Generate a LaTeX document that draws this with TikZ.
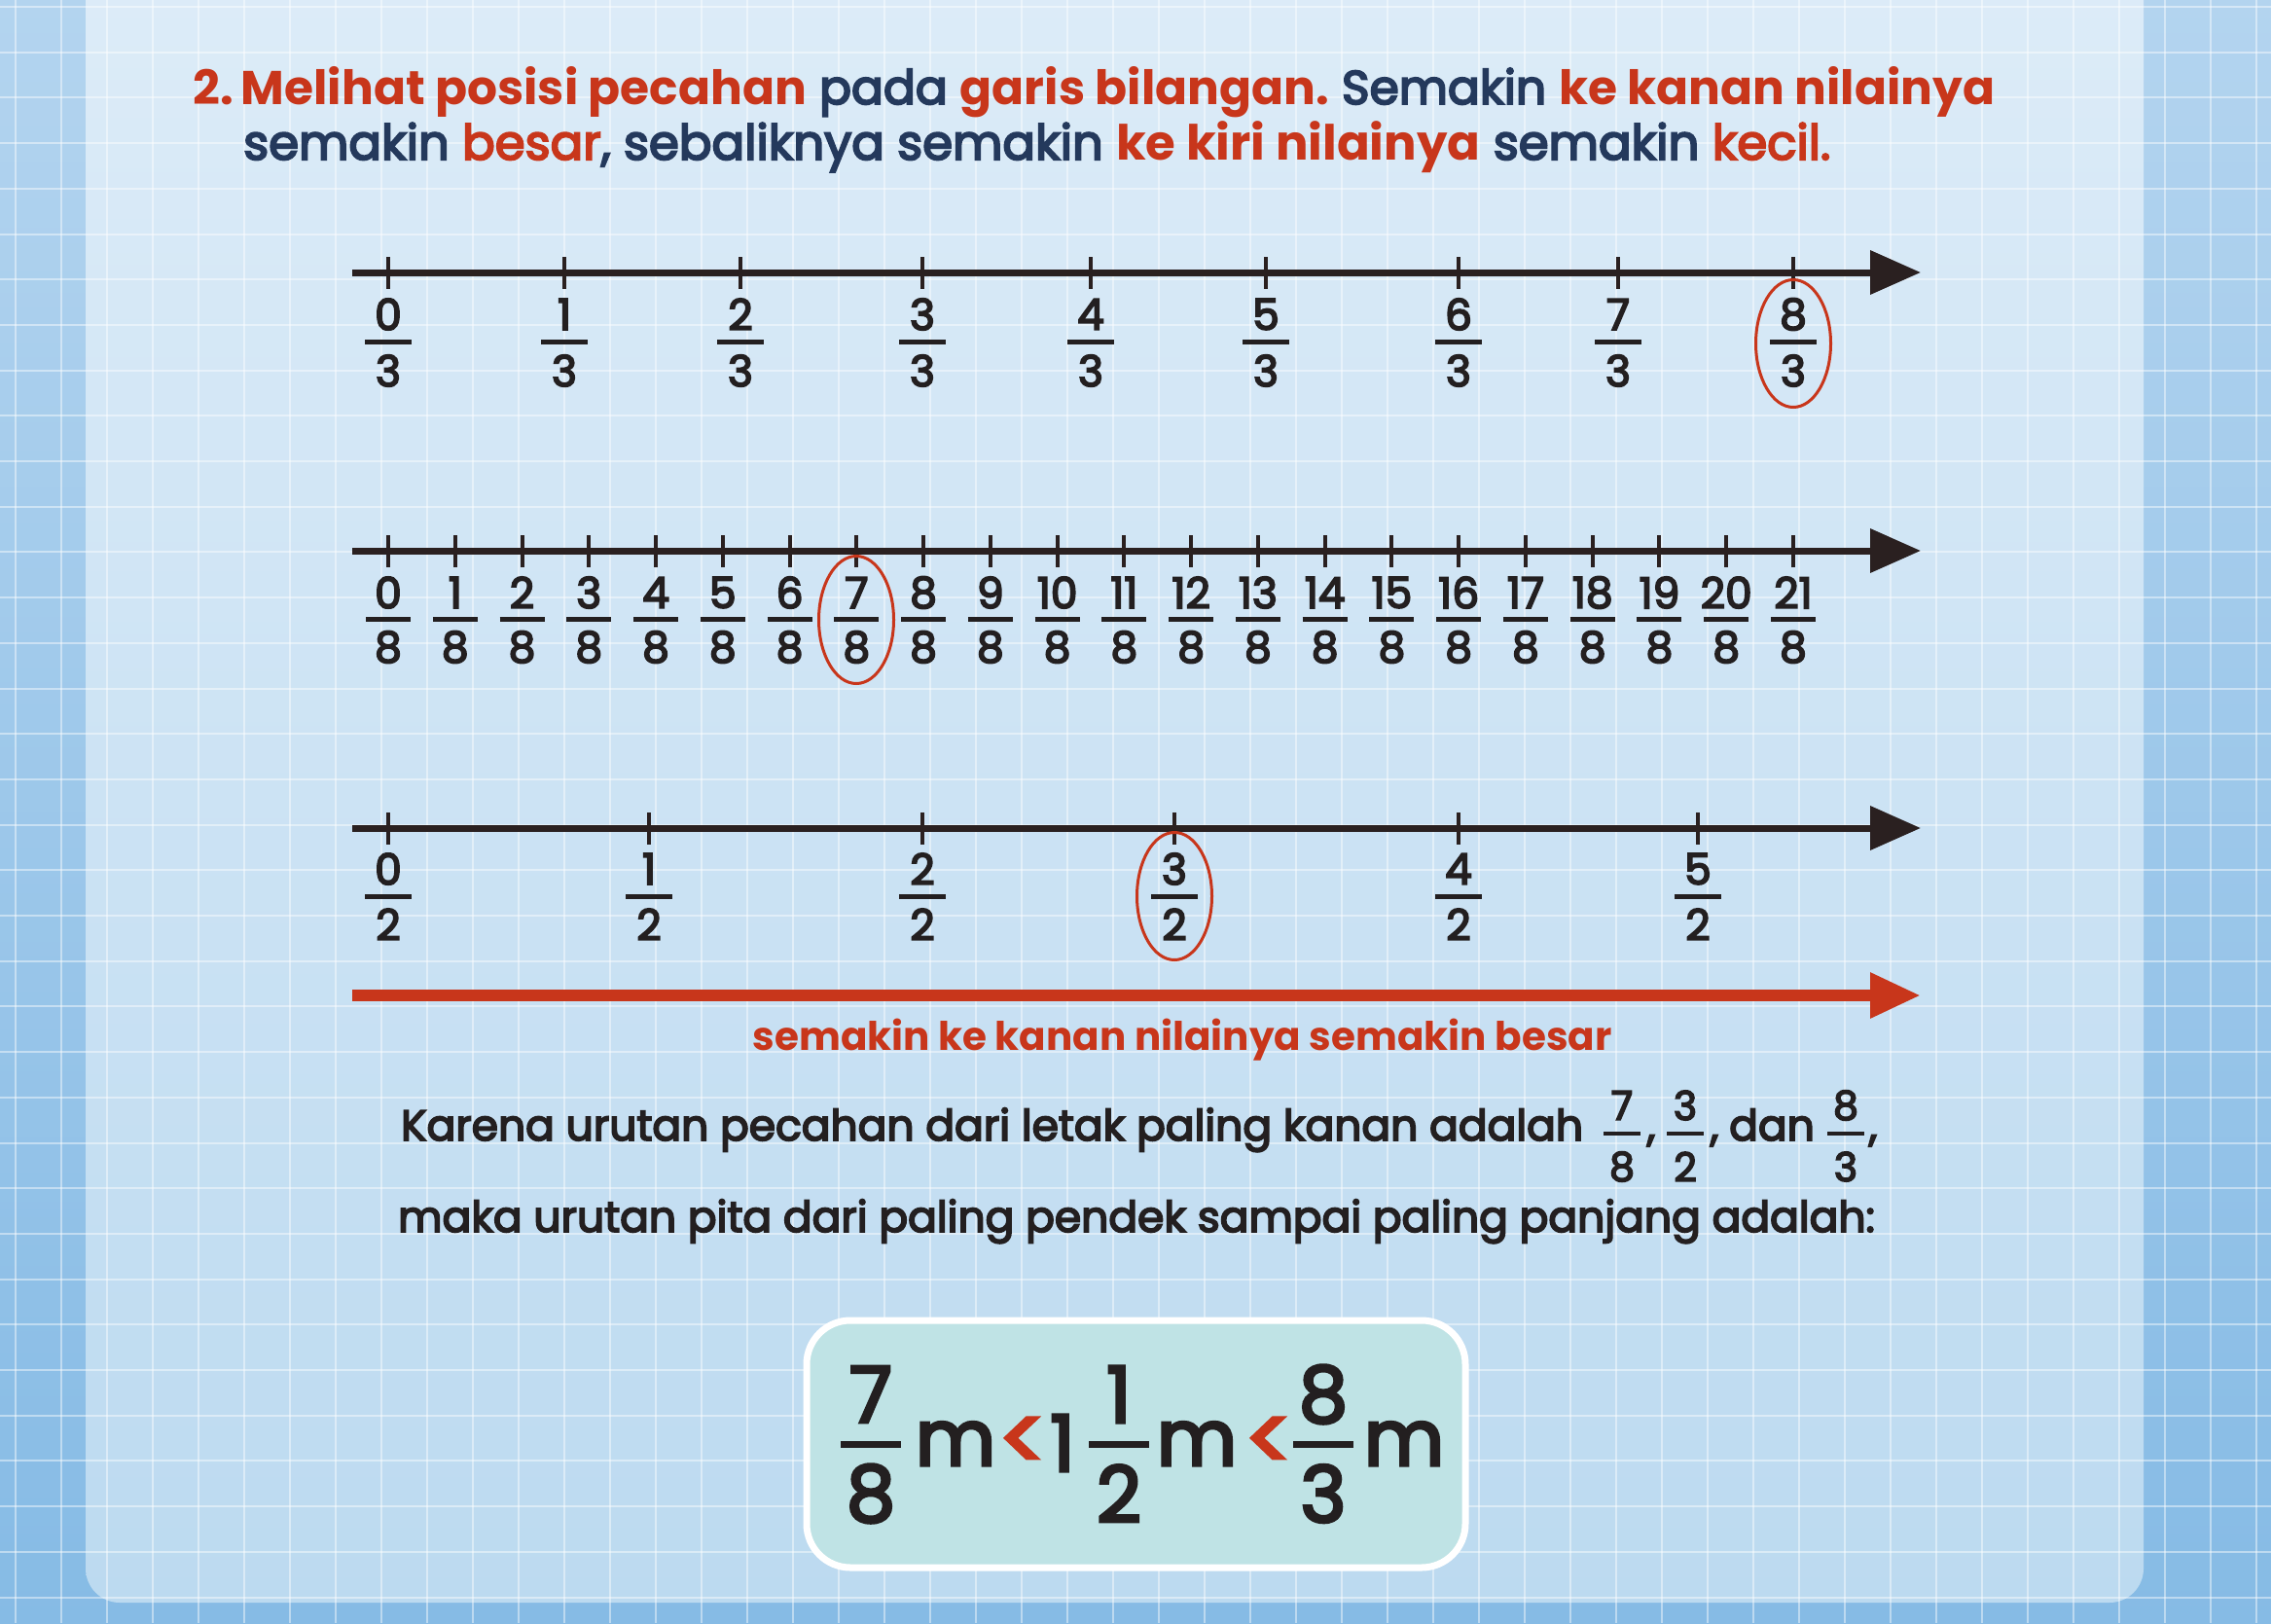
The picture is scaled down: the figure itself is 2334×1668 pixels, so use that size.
\documentclass[tikz,border=0pt]{standalone}
\usepackage{fontspec}
\setmainfont{Poppins}
\newfontfamily\pmed{Poppins}[FakeBold=4]
\usetikzlibrary{arrows.meta,shapes.geometric}
\definecolor{tred}{HTML}{C8361B}
\definecolor{tnavy}{HTML}{24395C}
\definecolor{tdark}{HTML}{231F20}
\definecolor{axiscol}{HTML}{2A2020}
\definecolor{outtop}{HTML}{B3D4EF}
\definecolor{outbot}{HTML}{86BBE5}
\definecolor{paneltop}{HTML}{DDECF8}
\definecolor{panelbot}{HTML}{BCDAF0}
\definecolor{boxfill}{HTML}{BFE3E5}
\tikzset{
  axis/.style={line width=7pt, draw=axiscol, -{Triangle[length=52pt,width=44pt]}},
  redaxis/.style={line width=12pt, draw=tred, -{Triangle[length=52pt,width=44pt]}},
  tick/.style={line width=4pt, draw=axiscol},
  fbar/.style={line width=5pt, draw=tdark},
  numtxt/.style={inner sep=0pt, text=tdark, font=\pmed\fontsize{44}{44}\selectfont},
  smalltxt/.style={inner sep=0pt, text=tdark, font=\pmed\fontsize{41}{41}\selectfont},
  bodytxt/.style={inner sep=0pt, text=tdark, font=\pmed\fontsize{44}{44}\selectfont},
  bigtxt/.style={inner sep=0pt, text=tdark, font=\pmed\fontsize{80}{80}\selectfont},
  lttxt/.style={inner sep=0pt, text=tred, font=\pmed\fontsize{90}{90}\selectfont},
  ring/.style={ellipse, draw=tred, line width=3pt, minimum width=77pt, minimum height=131pt, inner sep=0pt},
  gridl/.style={draw=white, line width=2pt, opacity=0.45},
}
\begin{document}
\frenchspacing
\begin{tikzpicture}[x=1pt,y=-1pt]
\useasboundingbox (0,0) rectangle (2334,1668);
% background
\shade[top color=outtop, bottom color=outbot] (0,0) rectangle (2334,1668);
\shade[top color=paneltop, bottom color=panelbot, rounded corners=35pt] (88,-60) rectangle (2203,1647);
\foreach \i in {0,...,49} \draw[gridl] ({16+47*\i},0) -- ({16+47*\i},1668);
\foreach \i in {0,...,35} \draw[gridl] (0,{7+46.7*\i}) -- (2334,{7+46.7*\i});

% title
\node[anchor=base west, inner sep=0pt, font=\fontsize{48.7}{56}\selectfont] (title1) at (198,107)
 {\textcolor{tred}{\bfseries 2.\,Melihat posisi pecahan} \textcolor{tnavy}{\pmed pada} \textcolor{tred}{\bfseries garis bilangan.} \textcolor{tnavy}{\pmed Semakin} \textcolor{tred}{\bfseries ke kanan nilainya}};
\node[anchor=base west, inner sep=0pt, font=\fontsize{49.8}{56}\selectfont] (title2) at (250,164)
 {\textcolor{tnavy}{\pmed semakin} \textcolor{tred}{\pmed besar}\textcolor{tnavy}{\pmed , sebaliknya semakin} \textcolor{tred}{\bfseries ke kiri nilainya} \textcolor{tnavy}{\pmed semakin} \textcolor{tred}{\pmed kecil.}};

% number line 1 (thirds)
\coordinate (a1s) at (362,280);
\coordinate (a1e) at (1974,280);
\draw[axis] (a1s) -- (a1e);
\foreach \x/\n [count=\k] in {399/0,580/1,761/2,948/3,1121/4,1301/5,1499/6,1663/7,1843/8}{
  \draw[tick] (\x,264) -- (\x,297);
  \node[numtxt] (p\k) at (\x,323) {\n};
  \draw[fbar] ({\x-24},351) -- ({\x+24},351);
  \node[numtxt] (q\k) at (\x,381) {3};
}
\node[ring] (c1) at (1843,353) {};

% number line 2 (eighths)
\coordinate (a2s) at (362,566);
\coordinate (a2e) at (1974,566);
\draw[axis] (a2s) -- (a2e);
\foreach \n in {0,...,21}{
  \pgfmathsetmacro{\x}{399+68.76*\n}
  \draw[tick] (\x,550) -- (\x,583);
  \node[numtxt] (r\n) at (\x,609) {\n};
  \draw[fbar] ({\x-23},636) -- ({\x+23},636);
  \node[numtxt] (s\n) at (\x,665) {8};
}
\node[ring] (c2) at (880,637) {};

% number line 3 (halves)
\coordinate (a3s) at (362,851);
\coordinate (a3e) at (1974,851);
\draw[axis] (a3s) -- (a3e);
\foreach \x/\n [count=\k] in {399/0,667/1,948/2,1207/3,1499/4,1745/5}{
  \draw[tick] (\x,835) -- (\x,868);
  \node[numtxt] (u\k) at (\x,893) {\n};
  \draw[fbar] ({\x-24},921) -- ({\x+24},921);
  \node[numtxt] (v\k) at (\x,950) {2};
}
\node[ring] (c3) at (1207,921) {};

% red arrow
\coordinate (ras) at (362,1023);
\coordinate (rae) at (1974,1023);
\draw[redaxis] (ras) -- (rae);
\node[anchor=base, inner sep=0pt, text=tred, font=\bfseries\fontsize{40.5}{40.5}\selectfont] (lbl) at (1215,1079) {semakin ke kanan nilainya semakin besar};

% explanation
\node[bodytxt, anchor=base west] (ex1) at (412,1172) {Karena urutan pecahan dari letak paling kanan adalah};
\foreach \x/\nn/\dd [count=\k] in {1667/7/8,1732/3/2,1897/8/3}{
  \node[smalltxt] (fn\k) at (\x,1136) {\nn};
  \draw[line width=4pt, draw=tdark] ({\x-19},1165) -- ({\x+19},1165);
  \node[smalltxt] (fd\k) at (\x,1199) {\dd};
}
\node[bodytxt, anchor=base] (cm1) at (1697,1172) {,};
\node[bodytxt, anchor=base] (cm2) at (1762,1172) {,};
\node[bodytxt, anchor=base west] (dan) at (1777,1172) {dan};
\node[bodytxt, anchor=base] (cm3) at (1925,1172) {,};
\node[bodytxt, anchor=base west] (ex2) at (409,1266) {maka urutan pita dari paling pendek sampai paling panjang adalah:};

% result box
\node[draw=white, line width=7pt, fill=boxfill, rounded corners=45pt, minimum width=677pt, minimum height=254pt, inner sep=0pt] (box) at (1167.5,1484) {};
\foreach \x/\nn/\dd [count=\k] in {895/7/8,1150/1/2,1360/8/3}{
  \node[bigtxt] (bn\k) at (\x,1433) {\nn};
  \draw[line width=7pt, draw=tdark] ({\x-31},1484) -- ({\x+31},1484);
  \node[bigtxt] (bd\k) at (\x,1535) {\dd};
}
\node[bigtxt, anchor=base] (m1) at (982,1506) {m};
\node[bigtxt, anchor=base] (m2) at (1230,1506) {m};
\node[bigtxt, anchor=base] (m3) at (1443,1506) {m};
\node[bigtxt] (w1) at (1092,1483) {1};
\node[lttxt] (lt1) at (1051,1484) {<};
\node[lttxt] (lt2) at (1304,1484) {<};
\end{tikzpicture}
\end{document}
